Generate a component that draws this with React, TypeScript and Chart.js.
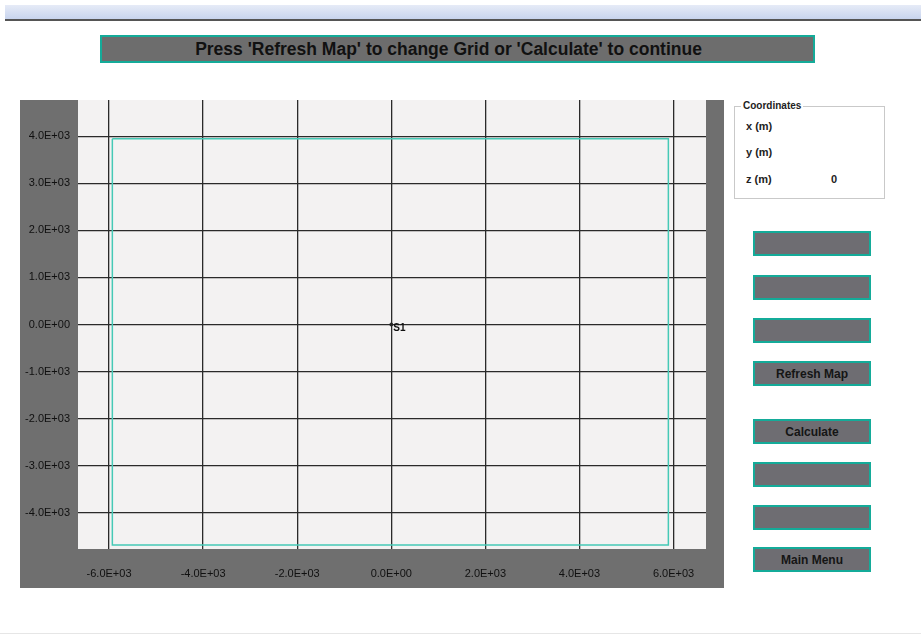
import React, { useEffect, useRef } from "react";
import { Chart, registerables } from "chart.js";

Chart.register(...registerables);

const xTicks = [-6000, -4000, -2000, 0, 2000, 4000, 6000];
const yTicks = [4000, 3000, 2000, 1000, 0, -1000, -2000, -3000, -4000];
const xRange = [-6660, 6690];
const yRange = [-4773, 4773];
const boundaryX = [-5930, 5890, 5890, -5930, -5930];
const boundaryY = [3950, 3950, -4690, -4690, 3950];
const sourceNames = ["S1"];
const sourceX = [0];
const sourceY = [0];

const titleText = "Press 'Refresh Map' to change Grid or 'Calculate' to continue";
const buttonLabels = ["", "", "", "Refresh Map", "Calculate", "", "", "Main Menu"];
const buttonTops = [231, 275, 318, 361, 419, 462, 505, 547];
const coordLabels = ["x (m)", "y (m)", "z (m)"];
const coordValues = ["", "", "0"];

const PANEL = "#6f6f6f";
const PLOT_BG = "#f3f2f2";
const TEAL = "#14ab99";

function fmtExp(v: number): string {
  if (v === 0) return "0.0E+00";
  const e = Math.floor(Math.log10(Math.abs(v)));
  const m = v / Math.pow(10, e);
  const sign = e < 0 ? "-" : "+";
  const ee = String(Math.abs(e)).padStart(2, "0");
  return m.toFixed(1) + "E" + sign + ee;
}

const bgPlugin = {
  id: "bgPlugin",
  beforeDraw(chart: any) {
    const { ctx, chartArea, width, height } = chart;
    ctx.save();
    ctx.fillStyle = PANEL;
    ctx.fillRect(0, 0, width, height);
    ctx.fillStyle = PLOT_BG;
    ctx.fillRect(chartArea.left, chartArea.top, chartArea.right - chartArea.left, chartArea.bottom - chartArea.top);
    ctx.restore();
  },
};

const labelPlugin = {
  id: "labelPlugin",
  afterDatasetsDraw(chart: any) {
    const meta = chart.getDatasetMeta(1);
    const ctx = chart.ctx;
    ctx.save();
    ctx.fillStyle = "#111";
    ctx.font = "bold 10px Arial, 'Liberation Sans', sans-serif";
    ctx.textAlign = "left";
    ctx.textBaseline = "middle";
    meta.data.forEach((pt: any, i: number) => {
      ctx.fillText(sourceNames[i], pt.x + 2, pt.y + 4);
    });
    ctx.restore();
  },
};

function zeroPad(scale: any) {
  scale.paddingTop = 0;
  scale.paddingBottom = 0;
  scale.paddingLeft = 0;
  scale.paddingRight = 0;
}

function MapChart() {
  const ref = useRef<HTMLCanvasElement | null>(null);
  useEffect(() => {
    if (!ref.current) return;
    const tickFont = { family: "Arial, 'Liberation Sans', sans-serif", size: 11 };
    const chart = new Chart(ref.current, {
      type: "scatter",
      data: {
        datasets: [
          {
            data: boundaryX.map((x, i) => ({ x, y: boundaryY[i] })),
            showLine: true,
            borderColor: "#45c9b6",
            borderWidth: 1.5,
            pointRadius: 0,
            fill: false,
          },
          {
            data: sourceX.map((x, i) => ({ x, y: sourceY[i] })),
            pointRadius: 1.5,
            pointBackgroundColor: "#222",
            pointBorderColor: "#222",
            showLine: false,
          },
        ],
      },
      options: {
        animation: false,
        responsive: false,
        devicePixelRatio: 1,
        layout: { autoPadding: false, padding: { left: 0, right: 18, top: 0, bottom: 0 } },
        plugins: { legend: { display: false }, tooltip: { enabled: false } },
        scales: {
          x: {
            type: "linear",
            min: xRange[0],
            max: xRange[1],
            afterBuildTicks: (scale: any) => {
              scale.ticks = xTicks.map((v) => ({ value: v }));
            },
            afterFit: (scale: any) => {
              scale.height = 39;
              zeroPad(scale);
            },
            grid: { color: "#2a2a2a", lineWidth: 1.3, drawTicks: false },
            border: { display: false },
            ticks: {
              color: "#101010",
              font: tickFont,
              padding: 18,
              maxRotation: 0,
              autoSkip: false,
              callback: (v: any) => fmtExp(Number(v)),
            },
          },
          y: {
            type: "linear",
            min: yRange[0],
            max: yRange[1],
            afterBuildTicks: (scale: any) => {
              scale.ticks = yTicks.map((v) => ({ value: v }));
            },
            afterFit: (scale: any) => {
              scale.width = 58;
              zeroPad(scale);
            },
            grid: { color: "#2a2a2a", lineWidth: 1.3, drawTicks: false },
            border: { display: false },
            ticks: {
              color: "#101010",
              font: tickFont,
              padding: 8,
              autoSkip: false,
              callback: (v: any) => fmtExp(Number(v)),
            },
          },
        },
      },
      plugins: [bgPlugin, labelPlugin],
    } as any);
    return () => chart.destroy();
  }, []);
  return (
    <canvas
      ref={ref}
      width={704}
      height={488}
      style={{ position: "absolute", left: 20, top: 100, width: 704, height: 488, background: PANEL }}
    />
  );
}

export default function App() {
  const font = "Arial, 'Liberation Sans', sans-serif";
  return (
    <div style={{ position: "absolute", left: 0, top: 0, width: 921, height: 636, background: "#fff", fontFamily: font, overflow: "hidden" }}>
      <div style={{ position: "absolute", left: 5, top: 5, width: 916, height: 14, background: "linear-gradient(#e6ebf7, #c8d4ee)" }} />
      <div style={{ position: "absolute", left: 5, top: 19, width: 916, height: 2, background: "#555" }} />
      <div
        style={{
          position: "absolute", left: 100, top: 35, width: 715, height: 28, boxSizing: "border-box",
          background: "#6d6d6d", border: `2px solid ${TEAL}`, color: "#111", fontWeight: "bold", fontSize: 17.5,
          display: "flex", alignItems: "center", justifyContent: "center", paddingRight: 18,
        }}
      >
        {titleText}
      </div>
      <MapChart />
      <div style={{ position: "absolute", left: 734, top: 106, width: 151, height: 93, boxSizing: "border-box", border: "1px solid #c9c9c9" }} />
      <div style={{ position: "absolute", left: 741, top: 100, background: "#fff", padding: "0 2px", fontSize: 10, fontWeight: "bold", color: "#222", lineHeight: "12px" }}>
        Coordinates
      </div>
      {coordLabels.map((t, i) => (
        <React.Fragment key={t}>
          <div style={{ position: "absolute", left: 746, top: [119, 145, 172][i], fontSize: 11, fontWeight: "bold", color: "#222", lineHeight: "14px" }}>{t}</div>
          <div style={{ position: "absolute", left: 831, top: [119, 145, 172][i], fontSize: 11, fontWeight: "bold", color: "#222", lineHeight: "14px" }}>{coordValues[i]}</div>
        </React.Fragment>
      ))}
      {buttonLabels.map((t, i) => (
        <div
          key={i}
          style={{
            position: "absolute", left: 753, top: buttonTops[i], width: 118, height: 25, boxSizing: "border-box",
            background: "#6e6d72", border: `2px solid ${TEAL}`, color: "#151515", fontWeight: "bold", fontSize: 12,
            display: "flex", alignItems: "center", justifyContent: "center",
          }}
        >
          {t}
        </div>
      ))}
      <div style={{ position: "absolute", left: 0, top: 633, width: 921, height: 1, background: "#e6e6e6" }} />
    </div>
  );
}
